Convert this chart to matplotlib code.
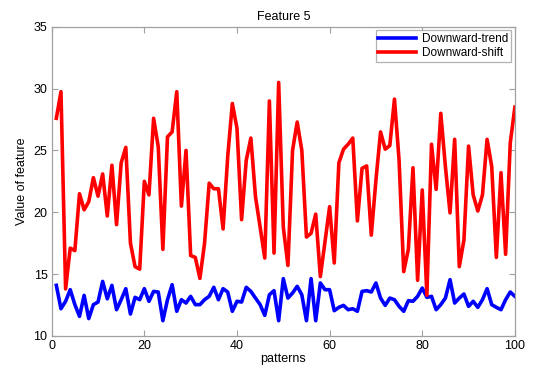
import matplotlib
matplotlib.use("Agg")
import matplotlib.pyplot as plt
import numpy as np

# ── Data (pattern index 1..100) ──────────────────────────────────────────────
patterns = np.arange(1, 101)

downward_trend = [
    14.09, 12.2, 12.8, 13.74, 12.53, 11.58, 13.28, 11.4, 12.53, 12.74,
    14.41, 13.0, 14.09, 12.12, 12.93, 13.82, 11.77, 13.12, 12.93, 13.82,
    12.8, 13.6, 13.55, 11.23, 12.93, 14.14, 11.99, 12.93, 12.66, 13.2,
    12.53, 12.53, 12.93, 13.2, 13.93, 12.93, 13.82, 13.55, 11.99, 12.8,
    12.74, 13.93, 13.6, 13.06, 12.53, 11.66, 13.33, 13.66, 11.23, 14.63,
    13.06, 13.47, 14.01, 13.33, 11.23, 14.63, 11.23, 14.28, 13.74, 13.74,
    12.04, 12.31, 12.47, 12.12, 12.2, 11.99, 13.6, 13.66, 13.55, 14.28,
    13.06, 12.47, 13.06, 12.93, 12.39, 11.99, 12.85, 12.8, 13.2, 13.87,
    13.12, 13.2, 12.12, 12.53, 13.06, 14.55, 12.66, 13.06, 13.39, 12.39,
    12.8, 12.31, 12.93, 13.82, 12.53, 12.31, 12.12, 12.93, 13.55, 13.2,
]

downward_shift = [
    27.6, 29.75, 13.8, 17.1, 16.9, 21.5, 20.2, 20.85, 22.8, 21.3,
    23.1, 19.7, 23.8, 19.0, 24.0, 25.25, 17.5, 15.6, 15.4, 22.5,
    21.4, 27.6, 25.3, 17.0, 26.1, 26.5, 29.75, 20.5, 25.0, 16.5,
    16.35, 14.65, 17.5, 22.35, 21.9, 21.9, 18.65, 24.5, 28.8, 26.8,
    19.4, 24.2, 26.0, 21.25, 18.8, 16.3, 29.0, 16.7, 30.5, 18.8,
    15.7, 25.0, 27.3, 25.0, 18.0, 18.3, 19.85, 14.8, 17.6, 20.45,
    15.9, 24.0, 25.1, 25.5, 26.0, 19.3, 23.55, 23.75, 18.15, 22.6,
    26.5, 25.1, 25.4, 29.15, 24.2, 15.2, 17.0, 23.6, 14.5, 21.8,
    13.3, 25.5, 21.85, 28.0, 23.7, 19.95, 25.9, 15.6, 17.75, 25.35,
    21.4, 20.1, 21.4, 25.9, 23.7, 16.35, 23.2, 16.6, 25.6, 28.5,
]

x_ticks = [0, 20, 40, 60, 80, 100]
y_ticks = [10, 15, 20, 25, 30, 35]

# ── Style: MATLAB-ish ────────────────────────────────────────────────────────
plt.rcParams["font.family"] = ["Liberation Sans", "DejaVu Sans"]
plt.rcParams["font.size"] = 8.5

fig = plt.figure(figsize=(5.33, 3.72), dpi=100)
ax = fig.add_axes([0.097, 0.097, 0.869, 0.831])

ax.plot(patterns, downward_trend, color="#0000ff", lw=2.6, label="Downward-trend")
ax.plot(patterns, downward_shift, color="#ff0000", lw=2.6, label="Downward-shift")

ax.set_xlim(0, 100)
ax.set_ylim(10, 35)
ax.set_xticks(x_ticks)
ax.set_yticks(y_ticks)

edge = "#a0a0a0"
for s in ax.spines.values():
    s.set_color(edge)
    s.set_linewidth(0.9)
ax.tick_params(direction="in", length=4, width=0.8, color=edge,
               top=True, right=True, labelsize=9, pad=3)

ax.set_title("Feature 5", fontsize=9, pad=5)
ax.set_xlabel("patterns", fontsize=9, labelpad=1)
ax.set_ylabel("Value of feature", fontsize=9, labelpad=4)

leg = ax.legend(loc="upper right", fontsize=8.5, frameon=True, fancybox=False,
                borderaxespad=0.3, handlelength=3.2, handletextpad=0.5,
                borderpad=0.25, labelspacing=0.15)
leg.get_frame().set_edgecolor(edge)
leg.get_frame().set_linewidth(0.9)

fig.savefig("out.png", dpi=100)
